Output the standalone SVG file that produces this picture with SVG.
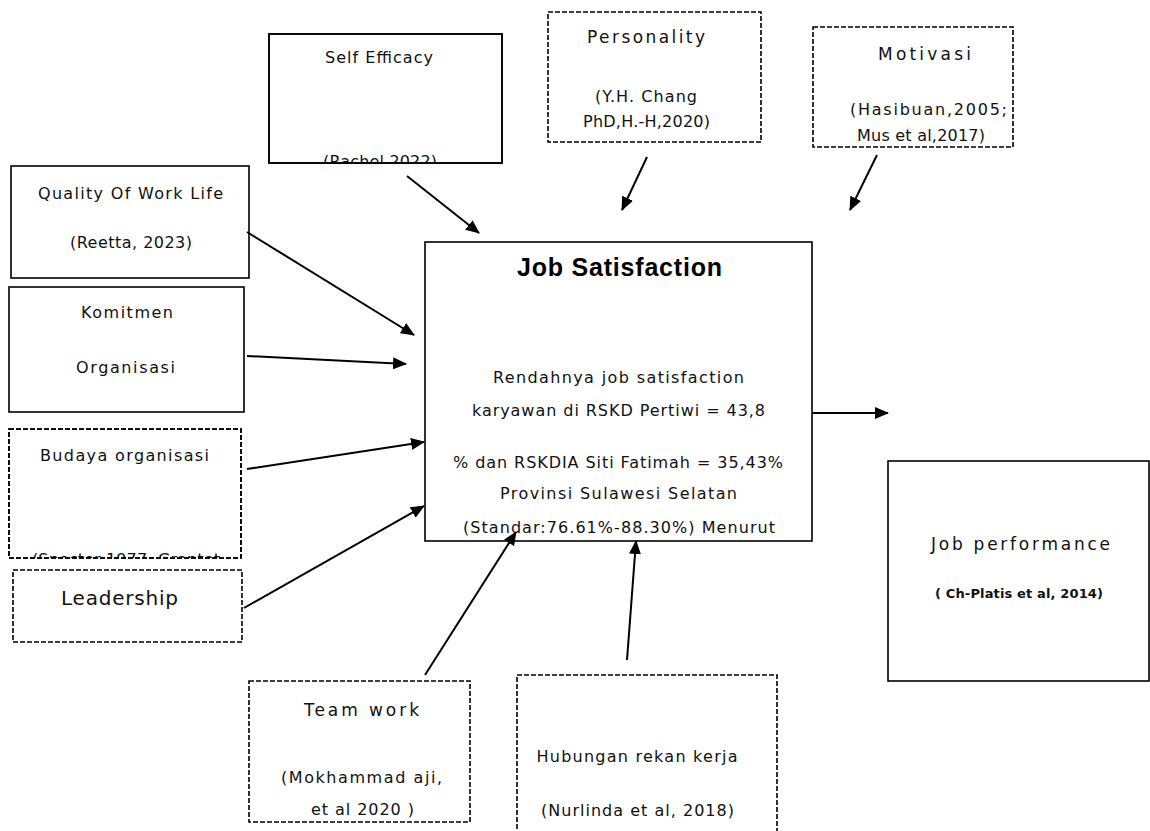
<svg xmlns="http://www.w3.org/2000/svg" width="1150" height="831" viewBox="0 0 1150 831">
<style>
.box{fill:#fff;stroke:#000;stroke-width:1.6}
.dash{fill:#fff;stroke:#000;stroke-width:1.6;stroke-dasharray:5 2}
.t{font-family:"DejaVu Sans","Liberation Sans",Arial,sans-serif;font-size:16px;fill:#111;text-anchor:middle}
.big{font-size:20px}
.p{font-size:17px}
.sm{font-size:13px;font-weight:bold}
.title{font-family:"Liberation Sans",Arial,sans-serif;font-size:25px;font-weight:bold;fill:#000;text-anchor:middle}
.arr{stroke:#000;stroke-width:2;fill:none;marker-end:url(#ah)}
</style>
<defs>
<marker id="ah" markerUnits="userSpaceOnUse" markerWidth="14" markerHeight="12" refX="13" refY="6" orient="auto">
<path d="M0,0 L14,6 L0,12 z" fill="#000"/>
</marker>
<clipPath id="cSelf"><rect x="269" y="34" width="233" height="129"/></clipPath>
<clipPath id="cBud"><rect x="9" y="429" width="232" height="129"/></clipPath>
</defs>

<g id="self-efficacy">
<rect class="box" x="269" y="34" width="233" height="129"/>
<g clip-path="url(#cSelf)">
<text class="t" x="379" y="63" textLength="108" lengthAdjust="spacing">Self Efficacy</text>
<text class="t" x="380" y="167" textLength="114" lengthAdjust="spacing">(Rachel 2022)</text>
</g>
<rect x="269" y="34" width="233" height="129" fill="none" stroke="#000" stroke-width="1.6"/>
</g>

<g id="personality">
<rect class="dash" x="548" y="12" width="213" height="130"/>
<text class="t p" x="646" y="43" textLength="118" lengthAdjust="spacing">Personality</text>
<text class="t" x="646" y="102" textLength="102" lengthAdjust="spacing">(Y.H. Chang</text>
<text class="t" x="646.5" y="127" textLength="127" lengthAdjust="spacing">PhD,H.-H,2020)</text>
</g>

<g id="motivasi">
<rect class="dash" x="813" y="27" width="200" height="120"/>
<text class="t p" x="924.5" y="60" textLength="93" lengthAdjust="spacing">Motivasi</text>
<text class="t" x="928.5" y="115" textLength="157" lengthAdjust="spacing">(Hasibuan,2005;</text>
<text class="t" x="921" y="141" textLength="128" lengthAdjust="spacing">Mus et al,2017)</text>
</g>

<g id="quality-of-work-life">
<rect class="box" x="11" y="166" width="238" height="112"/>
<text class="t" x="130.5" y="199" textLength="185" lengthAdjust="spacing">Quality Of Work Life</text>
<text class="t" x="131" y="248" textLength="122" lengthAdjust="spacing">(Reetta, 2023)</text>
</g>

<g id="komitmen-organisasi">
<rect class="box" x="9" y="287" width="235" height="125"/>
<text class="t" x="127" y="318" textLength="92" lengthAdjust="spacing">Komitmen</text>
<text class="t" x="125.5" y="373" textLength="99" lengthAdjust="spacing">Organisasi</text>
</g>

<g id="budaya-organisasi">
<rect class="dash" x="9" y="429" width="232" height="129"/>
<g clip-path="url(#cBud)">
<text class="t" x="124.5" y="461" textLength="169" lengthAdjust="spacing">Budaya organisasi</text>
<text class="t" x="126" y="565" textLength="188" lengthAdjust="spacing">(Spector 1977; Grantet</text>
</g>
<rect x="9" y="429" width="232" height="129" fill="none" stroke="#000" stroke-width="1.6" stroke-dasharray="5 2"/>
</g>

<g id="leadership">
<rect class="dash" x="13" y="570" width="229" height="72"/>
<text class="t big" x="119.5" y="605" textLength="117" lengthAdjust="spacing">Leadership</text>
</g>

<g id="job-satisfaction">
<rect class="box" x="425" y="242" width="387" height="299"/>
<text class="title" x="619.5" y="276" textLength="205" lengthAdjust="spacing">Job Satisfaction</text>
<text class="t" x="618.5" y="383" textLength="251" lengthAdjust="spacing">Rendahnya job satisfaction</text>
<text class="t" x="618.5" y="416" textLength="293" lengthAdjust="spacing">karyawan di RSKD Pertiwi = 43,8</text>
<text class="t" x="618" y="468" textLength="330" lengthAdjust="spacing">% dan RSKDIA Siti Fatimah = 35,43%</text>
<text class="t" x="618.5" y="499" textLength="237" lengthAdjust="spacing">Provinsi Sulawesi Selatan</text>
<text class="t" x="619" y="533" textLength="312" lengthAdjust="spacing">(Standar:76.61%-88.30%) Menurut</text>
</g>

<g id="job-performance">
<rect class="box" x="888" y="461" width="261" height="220"/>
<text class="t p" x="1020.5" y="550" textLength="179" lengthAdjust="spacing">Job performance</text>
<text class="t sm" x="1019" y="598" textLength="168" lengthAdjust="spacing">( Ch-Platis et al, 2014)</text>
</g>

<g id="team-work">
<rect class="dash" x="249" y="681" width="221" height="141"/>
<text class="t p" x="361.5" y="716" textLength="115" lengthAdjust="spacing">Team work</text>
<text class="t" x="361.5" y="783" textLength="161" lengthAdjust="spacing">(Mokhammad aji,</text>
<text class="t" x="362.5" y="815" textLength="103" lengthAdjust="spacing">et al 2020 )</text>
</g>

<g id="hubungan-rekan-kerja">
<rect class="dash" x="517" y="675" width="260" height="160"/>
<text class="t" x="637" y="762" textLength="201" lengthAdjust="spacing">Hubungan rekan kerja</text>
<text class="t" x="637.5" y="816" textLength="193" lengthAdjust="spacing">(Nurlinda et al, 2018)</text>
</g>

<g id="connectors">
<line class="arr" x1="407" y1="176" x2="479" y2="233"/>
<line class="arr" x1="647" y1="157" x2="622" y2="210"/>
<line class="arr" x1="877" y1="155" x2="850" y2="210"/>
<line class="arr" x1="247" y1="232" x2="414" y2="335"/>
<line class="arr" x1="247" y1="356" x2="406" y2="364"/>
<line class="arr" x1="247" y1="469" x2="424" y2="442"/>
<line class="arr" x1="244" y1="608" x2="424" y2="506"/>
<line class="arr" x1="425" y1="675" x2="516" y2="532"/>
<line class="arr" x1="627" y1="660" x2="636" y2="541"/>
<line class="arr" x1="812" y1="413" x2="888" y2="413"/>
</g>
</svg>
